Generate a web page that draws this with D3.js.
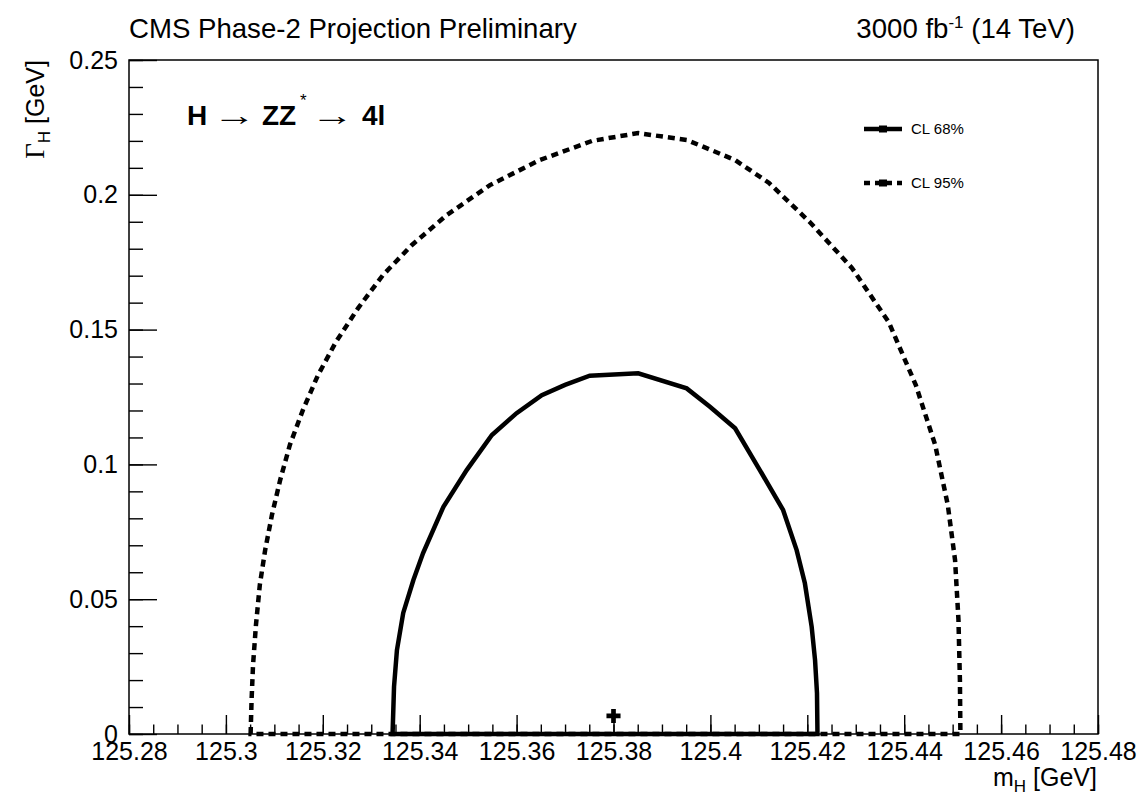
<!DOCTYPE html>
<html>
<head>
<meta charset="utf-8">
<script src="https://cdn.jsdelivr.net/npm/d3@7"></script>
<style>
  body { margin: 0; background: #fff; }
  svg { display: block; }
  text { font-family: "Liberation Sans", Arial, Helvetica, sans-serif; fill: #000; }
</style>
</head>
<body>
<svg id="chart" width="1142" height="795"></svg>
<script>
// 68% CL contour in the (m_H, Gamma_H) plane, GeV
const massCL68 = [125.3344, 125.3347, 125.3353, 125.3366, 125.3387, 125.3407, 125.3449, 125.3497,
                  125.3549, 125.3600, 125.3652, 125.3700, 125.3751, 125.3851, 125.3951, 125.3999,
                  125.4051, 125.4102, 125.4150, 125.4178, 125.4195, 125.4209, 125.4216, 125.4220, 125.4221];
const widthCL68 = [0, 0.0175, 0.0311, 0.0449, 0.0571, 0.0671, 0.0843, 0.0979,
                   0.1109, 0.1190, 0.1257, 0.1295, 0.1329, 0.1338, 0.1282, 0.1214,
                   0.1134, 0.0979, 0.0831, 0.0682, 0.0559, 0.0398, 0.0274, 0.0152, 0];

// 95% CL contour
const massCL95 = [125.3051, 125.3053, 125.3056, 125.3062, 125.3070, 125.3081, 125.3095, 125.3112,
                  125.3132, 125.3159, 125.3190, 125.3227, 125.3273, 125.3324, 125.3384, 125.3456,
                  125.3545, 125.3648, 125.3756, 125.3851, 125.3952, 125.4051, 125.4121, 125.4205,
                  125.4292, 125.4368, 125.4424, 125.4464, 125.4490, 125.4505, 125.4512, 125.4515, 125.4516];
const widthCL95 = [0, 0.0126, 0.0256, 0.0404, 0.0553, 0.0682, 0.0812, 0.0942,
                   0.1072, 0.1202, 0.1331, 0.1454, 0.1580, 0.1702, 0.1814, 0.1925,
                   0.2036, 0.2129, 0.2200, 0.2229, 0.2203, 0.2129, 0.2044, 0.1899,
                   0.1729, 0.1528, 0.1294, 0.1072, 0.0849, 0.0645, 0.0423, 0.0200, 0];

// best-fit point
const bestFitMass = [125.38];
const bestFitWidth = [0.0067];

const xTickValues = [125.28, 125.30, 125.32, 125.34, 125.36, 125.38, 125.40, 125.42, 125.44, 125.46, 125.48];
const yTickValues = [0, 0.05, 0.10, 0.15, 0.20, 0.25];
const legendLabels = ["CL 68%", "CL 95%"];

const frame = { left: 129, right: 1098, top: 60, bottom: 734 };
const svg = d3.select("#chart");

const x = d3.scaleLinear().domain([125.28, 125.48]).range([frame.left, frame.right]);
const y = d3.scaleLinear().domain([0, 0.25]).range([frame.bottom, frame.top]);
const fmt = d3.format("~g");

// frame
svg.append("rect")
  .attr("x", frame.left).attr("y", frame.top)
  .attr("width", frame.right - frame.left).attr("height", frame.bottom - frame.top)
  .attr("fill", "none").attr("stroke", "#000").attr("stroke-width", 1.5);

function styleAxis(g, size) {
  g.select(".domain").remove();
  g.attr("font-family", null).attr("font-size", null);
  g.selectAll("line").attr("stroke", "#000").attr("stroke-width", 1.4);
  g.selectAll("text").style("font-size", size + "px");
}

// x axis: minor ticks every 0.005, major every 0.02 (ticks point inward)
const xMinor = d3.range(0, 41).map(i => 125.28 + i * 0.005);
svg.append("g").attr("transform", `translate(0,${frame.bottom})`)
  .call(d3.axisBottom(x).tickValues(xMinor).tickSize(-9.5).tickFormat(""))
  .call(g => styleAxis(g, 25));
svg.append("g").attr("transform", `translate(0,${frame.bottom})`)
  .call(d3.axisBottom(x).tickValues(xTickValues).tickSize(-19).tickPadding(8).tickFormat(fmt))
  .call(g => styleAxis(g, 25));

// y axis: minor ticks every 0.01, major every 0.05
const yMinor = d3.range(0, 26).map(i => i * 0.01);
svg.append("g").attr("transform", `translate(${frame.left},0)`)
  .call(d3.axisLeft(y).tickValues(yMinor).tickSize(-14).tickFormat(""))
  .call(g => styleAxis(g, 25));
svg.append("g").attr("transform", `translate(${frame.left},0)`)
  .call(d3.axisLeft(y).tickValues(yTickValues).tickSize(-28).tickPadding(11).tickFormat(fmt))
  .call(g => styleAxis(g, 25));

// contours, closed along Gamma_H = 0
const line = d3.line().x(d => x(d[0])).y(d => y(d[1]));
const cl95 = d3.zip(massCL95, widthCL95);
const cl68 = d3.zip(massCL68, widthCL68);

svg.append("path").attr("d", line(cl95) + "Z")
  .attr("fill", "none").attr("stroke", "#000").attr("stroke-width", 4.5)
  .attr("stroke-dasharray", "7,5");
svg.append("path").attr("d", line(cl68) + "Z")
  .attr("fill", "none").attr("stroke", "#000").attr("stroke-width", 4.5);

// best-fit marker
svg.selectAll("path.bestfit").data(d3.zip(bestFitMass, bestFitWidth)).join("path")
  .attr("class", "bestfit")
  .attr("d", d3.symbol(d3.symbolCross).size(110))
  .attr("transform", d => `translate(${x(d[0])},${y(d[1])})`)
  .attr("fill", "#000");

// legend
const legend = svg.append("g");
legendLabels.forEach((label, i) => {
  const ly = 129 + i * 54;
  legend.append("line").attr("x1", 864).attr("x2", 902).attr("y1", ly).attr("y2", ly)
    .attr("stroke", "#000").attr("stroke-width", 4.5)
    .attr("stroke-dasharray", i === 1 ? "6,5" : null);
  legend.append("rect").attr("x", 879).attr("y", ly - 3.5).attr("width", 8).attr("height", 7).attr("fill", "#000");
  legend.append("text").attr("x", 911).attr("y", ly).attr("dy", "0.35em")
    .style("font-size", "15px").text(label);
});

// header texts
svg.append("text").attr("x", 129).attr("y", 38).style("font-size", "27.6px")
  .text("CMS Phase-2 Projection Preliminary");

const lumi = svg.append("text").attr("x", 1075).attr("y", 38).attr("text-anchor", "end").style("font-size", "27.6px");
lumi.append("tspan").text("3000 fb");
lumi.append("tspan").attr("dy", -10).style("font-size", "17px").text("-1");
lumi.append("tspan").attr("dy", 10).text(" (14 TeV)");

// process label: H -> ZZ* -> 4l (arrows stretched horizontally)
const proc = svg.append("g").style("font-size", "28px");
proc.append("text").attr("x", 187).attr("y", 125).attr("font-weight", "bold").text("H");
proc.append("text").attr("transform", "translate(213,125) scale(1.55,1)").text("\u2192");
proc.append("text").attr("x", 262).attr("y", 125).attr("font-weight", "bold").text("ZZ");
proc.append("text").attr("x", 300).attr("y", 106).style("font-size", "17px").text("*");
proc.append("text").attr("transform", "translate(311,125) scale(1.55,1)").text("\u2192");
proc.append("text").attr("x", 362).attr("y", 125).attr("font-weight", "bold").text("4l");

// axis titles
const xt = svg.append("text").attr("x", 1097).attr("y", 786).attr("text-anchor", "end").style("font-size", "25px");
xt.append("tspan").text("m");
xt.append("tspan").attr("dy", 6).style("font-size", "17px").text("H");
xt.append("tspan").attr("dy", -6).text(" [GeV]");

const yt = svg.append("text").attr("transform", "translate(44,60) rotate(-90)").attr("text-anchor", "end").style("font-size", "25px");
yt.append("tspan").style("font-family", "'Liberation Serif', serif").style("font-size", "27px").text("\u0393");
yt.append("tspan").attr("dy", 6).style("font-size", "17px").text("H");
yt.append("tspan").attr("dy", -6).text(" [GeV]");
</script>
</body>
</html>
